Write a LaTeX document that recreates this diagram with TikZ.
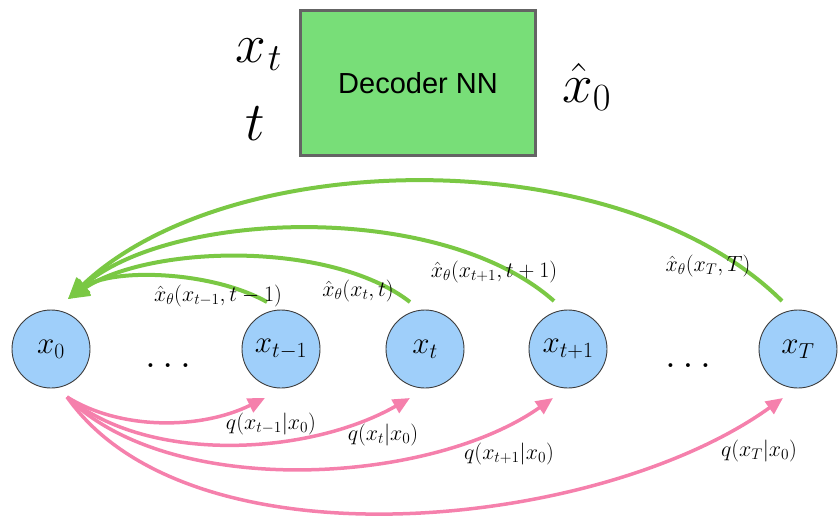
\RequirePackage{fix-cm}
\documentclass[tikz,border=0pt]{standalone}
\usepackage{fontspec}
\newfontfamily\arialf{Liberation Sans}
\usetikzlibrary{arrows.meta,calc}
\definecolor{gline}{RGB}{122,200,68}
\definecolor{pline}{RGB}{245,128,172}
\definecolor{cfill}{RGB}{159,207,250}
\definecolor{cdraw}{RGB}{60,60,60}
\definecolor{boxfill}{RGB}{120,222,120}
\definecolor{boxdraw}{RGB}{100,100,100}
\tikzset{
  state/.style={circle, draw=cdraw, line width=0.9pt, fill=cfill, minimum size=78pt, inner sep=0pt, font=\fontsize{31}{36}\selectfont},
  decbox/.style={draw=boxdraw, line width=3pt, fill=boxfill, minimum width=235pt, minimum height=145pt, inner sep=0pt, font=\arialf\fontsize{29}{34}\selectfont},
  biglbl/.style={inner sep=0pt, font=\fontsize{55}{60}\selectfont},
  elbl/.style={inner sep=0pt, font=\fontsize{22}{26}\selectfont},
  garrow/.style={draw=gline, line width=4pt, -{Triangle[length=21pt,width=19pt]}},
  parrow/.style={draw=pline, line width=3.5pt, -{Triangle[length=17pt,width=15pt]}},
  dotsl/.style={inner sep=0pt, font=\fontsize{40}{44}\selectfont}
}
\begin{document}
\begin{tikzpicture}[x=1pt,y=-1pt]
\useasboundingbox (0,0) rectangle (838,517);
% top
\node[decbox] (dec) at (418,83) {Decoder NN};
\node[biglbl, anchor=base west] (inxt) at (235,62) {$x_{\mkern1mu t}$};
\node[biglbl, anchor=base] (int) at (255,140) {$t$};
\node[biglbl, anchor=base west] (outx) at (562,102) {$\hat{x}_0$};
% states
\node[state] (x0) at (51,349) {$x_0$};
\node[state] (xtm1) at (281,349) {$x_{t-1}$};
\node[state] (xt) at (425,349) {$x_t$};
\node[state] (xtp1) at (568,349) {$x_{t+1}$};
\node[state] (xT) at (798,349) {$x_T$};
\node[dotsl, anchor=base] (d1) at (168,367) {$\dots$};
\node[dotsl, anchor=base] (d2) at (688,367) {$\dots$};
% endpoints
\coordinate (gtip) at ($(x0)+(17,-50)$);
\coordinate (pstart) at ($(x0)+(16,48)$);
% green arrows
\draw[garrow] ($(xtm1)+(-14,-47)$) .. controls (210,270) and (110,268) .. (gtip);
\draw[garrow] ($(xt)+(-15,-47)$) .. controls (330,240) and (150,245) .. (gtip);
\draw[garrow] ($(xtp1)+(-14,-48)$) .. controls (440,200) and (170,210) .. (gtip);
\draw[garrow] ($(xT)+(-16,-48)$) .. controls (620,140) and (230,145) .. (gtip);
% pink arrows
\draw[parrow] (pstart) .. controls (120,430) and (200,430) .. ($(xtm1)+(-16,49)$);
\draw[parrow] (pstart) .. controls (150,465) and (310,455) .. ($(xt)+(-15,49)$);
\draw[parrow] (pstart) .. controls (170,500) and (430,485) .. ($(xtp1)+(-15,49)$);
\draw[parrow] (pstart) .. controls (190,572) and (600,530) .. ($(xT)+(-15,49)$);
% labels
\node[elbl] (l1) at (218,296) {$\hat{x}_\theta(x_{t-1}, t-1)$};
\node[elbl] (l2) at (358,291) {$\hat{x}_\theta(x_t, t)$};
\node[elbl] (l3) at (494,272) {$\hat{x}_\theta(x_{t+1}, t+1)$};
\node[elbl] (l4) at (708,266) {$\hat{x}_\theta(x_T, T)$};
\node[elbl] (q1) at (271,424) {$q(x_{t-1}|x_0)$};
\node[elbl] (q2) at (383,435) {$q(x_t|x_0)$};
\node[elbl] (q3) at (509,454) {$q(x_{t+1}|x_0)$};
\node[elbl] (q4) at (759,451) {$q(x_T|x_0)$};
\end{tikzpicture}
\end{document}
